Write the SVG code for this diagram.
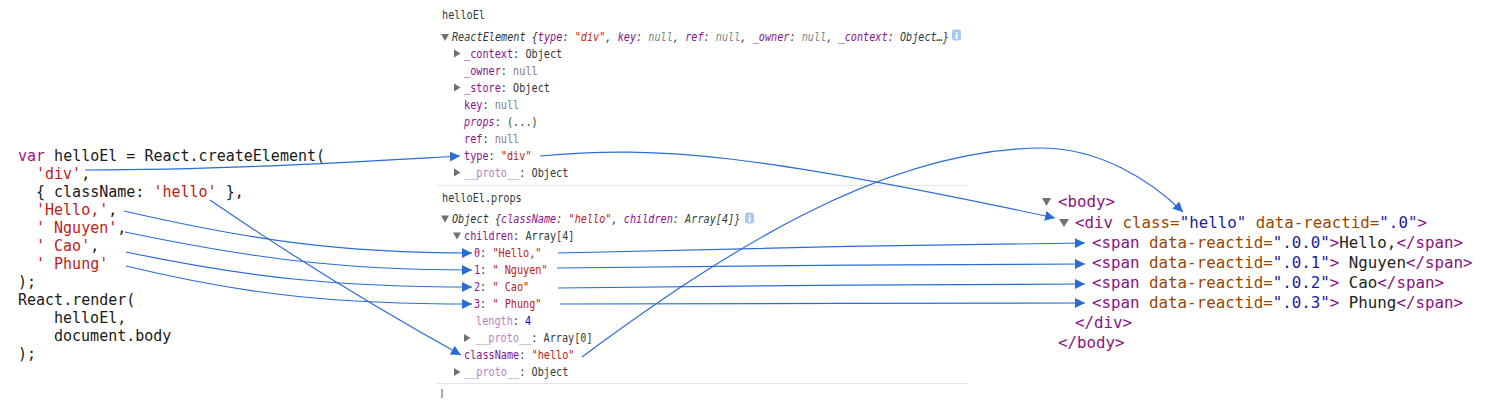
<svg xmlns="http://www.w3.org/2000/svg" width="1487" height="400" viewBox="0 0 1487 400" xml:space="preserve">
<style>
.code{font-family:"DejaVu Sans Mono","Liberation Mono",monospace;font-size:15px;fill:#1a1a1a}
.kw{fill:#aa0d91}
.s{fill:#c41a16}
.dt{font-family:"DejaVu Sans Mono","Liberation Mono",monospace;font-size:12px;fill:#303942}
.k{fill:#881391}
.kl{fill:#b77fc9}
.nl{fill:#808080}
.num{fill:#1c00cf}
.it{font-style:italic}
.dom{font-family:"DejaVu Sans Mono","Liberation Mono",monospace;font-size:15.8px;fill:#222}
.tg{fill:#881280}
.an{fill:#994500}
.av{fill:#1a1aa6}
.tri{fill:#707070}
.sep{stroke:#e3e3e3;stroke-width:1}
.info{fill:#a9c8f0}
.infot{font-family:"DejaVu Sans","Liberation Sans",sans-serif;font-size:9px;font-weight:bold;fill:#fff}
.con{fill:none;stroke:#2b6cd4;stroke-width:1.2}
</style>
<defs>
<marker id="ah" markerUnits="userSpaceOnUse" markerWidth="11" markerHeight="10" refX="10" refY="5" orient="auto"><path d="M0,0 L10,5 L0,10 z" fill="#2b6cd4"/></marker>
</defs>
<rect width="1487" height="400" fill="#fff"/>

<g id="source-code" class="code">
<text x="18" y="161"><tspan class="kw">var</tspan> helloEl = React.createElement(</text>
<text x="36" y="179"><tspan class="s">'div'</tspan>,</text>
<text x="36" y="197">{ className: <tspan class="s">'hello'</tspan> },</text>
<text x="36" y="215"><tspan class="s">'Hello,'</tspan>,</text>
<text x="36" y="233"><tspan class="s">' Nguyen'</tspan>,</text>
<text x="36" y="251"><tspan class="s">' Cao'</tspan>,</text>
<text x="36" y="269"><tspan class="s">' Phung'</tspan></text>
<text x="18" y="287">);</text>
<text x="18" y="305">React.render(</text>
<text x="54" y="323">helloEl,</text>
<text x="54" y="341">document.body</text>
<text x="18" y="359">);</text>
</g>

<g id="helloEl-panel">
<polygon class="tri" points="441,34 449,34 445,41"/>
<polygon class="tri" points="454,49.5 454,57.5 460.5,53.5"/>
<polygon class="tri" points="454,83.5 454,91.5 460.5,87.5"/>
<polygon class="tri" points="454,168.5 454,176.5 460.5,172.5"/>
<rect class="info" x="952" y="29.5" width="9" height="11" rx="2.5"/>
<text class="infot" x="956.5" y="38.5" text-anchor="middle">i</text>
<g class="dt" transform="translate(437,0) scale(0.85,1)">
<text x="5.9" y="19">helloEl</text>
<text x="17.6" y="41" class="it">ReactElement {<tspan class="k">type</tspan>: <tspan class="s">"div"</tspan>, <tspan class="k">key</tspan>: <tspan class="nl">null</tspan>, <tspan class="k">ref</tspan>: <tspan class="nl">null</tspan>, <tspan class="k">_owner</tspan>: <tspan class="nl">null</tspan>, <tspan class="k">_context</tspan>: Object…}</text>
<text x="31.8" y="58"><tspan class="k">_context</tspan>: Object</text>
<text x="31.8" y="75"><tspan class="k">_owner</tspan>: <tspan class="nl">null</tspan></text>
<text x="31.8" y="92"><tspan class="k">_store</tspan>: Object</text>
<text x="31.8" y="109"><tspan class="k">key</tspan>: <tspan class="nl">null</tspan></text>
<text x="31.8" y="126"><tspan class="k it">props</tspan>: (...)</text>
<text x="31.8" y="143"><tspan class="k">ref</tspan>: <tspan class="nl">null</tspan></text>
<text x="31.8" y="160"><tspan class="k">type</tspan>: <tspan class="s">"div"</tspan></text>
<text x="31.8" y="177"><tspan class="kl">__proto__</tspan>: Object</text>
</g>
</g>

<line class="sep" x1="437" y1="185.5" x2="968" y2="185.5"/>

<g id="props-panel">
<polygon class="tri" points="441,215.5 449,215.5 445,222.5"/>
<polygon class="tri" points="453,232.5 461,232.5 457,239.5"/>
<polygon class="tri" points="464,334 464,342 470.5,338"/>
<polygon class="tri" points="454,368 454,376 460.5,372"/>
<rect class="info" x="745" y="212.5" width="9" height="11" rx="2.5"/>
<text class="infot" x="749.5" y="221.5" text-anchor="middle">i</text>
<g class="dt" transform="translate(437,0) scale(0.85,1)">
<text x="5.9" y="202">helloEl.props</text>
<text x="17.6" y="223" class="it">Object {<tspan class="k">className</tspan>: <tspan class="s">"hello"</tspan>, <tspan class="k">children</tspan>: Array[4]}</text>
<text x="31.8" y="240"><tspan class="k">children</tspan>: Array[4]</text>
<text x="43.5" y="257"><tspan class="k">0</tspan>: <tspan class="s">"Hello,"</tspan></text>
<text x="43.5" y="274"><tspan class="k">1</tspan>: <tspan class="s">" Nguyen"</tspan></text>
<text x="43.5" y="291"><tspan class="k">2</tspan>: <tspan class="s">" Cao"</tspan></text>
<text x="43.5" y="308"><tspan class="k">3</tspan>: <tspan class="s">" Phung"</tspan></text>
<text x="45.9" y="325"><tspan class="kl">length</tspan>: <tspan class="num">4</tspan></text>
<text x="45.9" y="342"><tspan class="kl">__proto__</tspan>: Array[0]</text>
<text x="31.8" y="359"><tspan class="k">className</tspan>: <tspan class="s">"hello"</tspan></text>
<text x="31.8" y="376"><tspan class="kl">__proto__</tspan>: Object</text>
</g>
</g>

<line class="sep" x1="437" y1="383.5" x2="968" y2="383.5"/>
<line x1="442" y1="389" x2="442" y2="398" stroke="#555" stroke-width="1"/>

<g id="dom-panel" class="dom">
<polygon class="tri" points="1042,198 1051,198 1046.5,206"/>
<polygon class="tri" points="1059,219 1069,219 1064,227"/>
<text x="1058" y="207"><tspan class="tg">&lt;body&gt;</tspan></text>
<text x="1075" y="228"><tspan class="tg">&lt;div</tspan><tspan class="an"> class=</tspan><tspan class="av">"hello"</tspan><tspan class="an"> data-reactid=</tspan><tspan class="av">".0"</tspan><tspan class="tg">&gt;</tspan></text>
<text x="1092" y="248"><tspan class="tg">&lt;span</tspan><tspan class="an"> data-reactid=</tspan><tspan class="av">".0.0"</tspan><tspan class="tg">&gt;</tspan>Hello,<tspan class="tg">&lt;/span&gt;</tspan></text>
<text x="1092" y="268"><tspan class="tg">&lt;span</tspan><tspan class="an"> data-reactid=</tspan><tspan class="av">".0.1"</tspan><tspan class="tg">&gt;</tspan> Nguyen<tspan class="tg">&lt;/span&gt;</tspan></text>
<text x="1092" y="288"><tspan class="tg">&lt;span</tspan><tspan class="an"> data-reactid=</tspan><tspan class="av">".0.2"</tspan><tspan class="tg">&gt;</tspan> Cao<tspan class="tg">&lt;/span&gt;</tspan></text>
<text x="1092" y="308"><tspan class="tg">&lt;span</tspan><tspan class="an"> data-reactid=</tspan><tspan class="av">".0.3"</tspan><tspan class="tg">&gt;</tspan> Phung<tspan class="tg">&lt;/span&gt;</tspan></text>
<text x="1075" y="328"><tspan class="tg">&lt;/div&gt;</tspan></text>
<text x="1058" y="348"><tspan class="tg">&lt;/body&gt;</tspan></text>
</g>

<g id="connectors">
<path class="con" marker-end="url(#ah)" d="M85,170 C 230,170 370,161 460,156"/>
<path class="con" marker-end="url(#ah)" d="M210,200 C 290,255 380,310 461,355"/>
<path class="con" marker-end="url(#ah)" d="M124,211 C 250,240 340,253 472,253"/>
<path class="con" marker-end="url(#ah)" d="M125,232 C 250,258 340,270 472,270"/>
<path class="con" marker-end="url(#ah)" d="M126,252 C 250,278 340,287 472,287"/>
<path class="con" marker-end="url(#ah)" d="M126,266 C 250,296 340,304 472,304"/>
<path class="con" marker-end="url(#ah)" d="M558,253 C 750,248 900,245 1085,243"/>
<path class="con" marker-end="url(#ah)" d="M557,268 C 750,266 900,264 1085,264"/>
<path class="con" marker-end="url(#ah)" d="M558,288 C 750,286 900,284 1085,284"/>
<path class="con" marker-end="url(#ah)" d="M560,304 C 750,304 900,303 1085,303"/>
<path class="con" marker-end="url(#ah)" d="M540,156 C 660,145 760,155 1055,218"/>
<path class="con" marker-end="url(#ah)" d="M582,357 C 720,255 880,150 1040,148 C 1100,148 1150,180 1183,212"/>
</g>
</svg>
